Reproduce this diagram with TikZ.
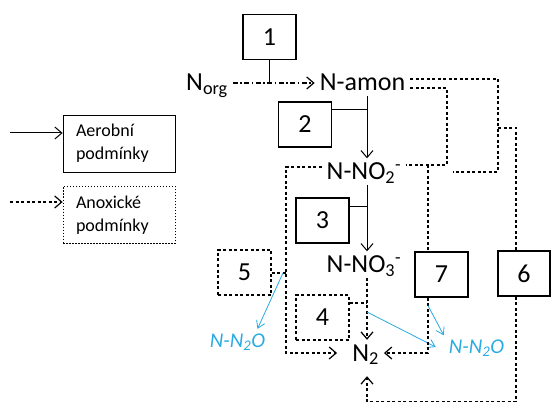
\documentclass[tikz,border=0pt]{standalone}
\usepackage{fontspec}
\setmainfont{Carlito}
\usepackage{xcolor}
\usetikzlibrary{arrows.meta,positioning,calc}
\definecolor{modra}{RGB}{41,170,226}
\tikzset{
    krabice/.style={
        rectangle,
        draw,
        line width=1.2pt,
        minimum width=53pt,
        minimum height=45pt,
        inner sep=0pt,
        font=\fontsize{26}{30}\selectfont
    },
    krabiceAnox/.style={krabice, dash pattern=on 3pt off 2.5pt},
    latka/.style={
        inner xsep=5pt,
        inner ysep=5pt,
        text height=16pt,
        text depth=0pt,
        font=\fontsize{26}{30}\selectfont
    },
    plyn/.style={latka, text height=13pt, text=modra, font=\fontsize{21}{25}\selectfont\itshape},
    legenda/.style={
        rectangle,
        draw,
        line width=0.8pt,
        align=left,
        text width=86pt,
        minimum height=57pt,
        inner xsep=13pt,
        font=\fontsize{18}{23}\selectfont
    },
    sipka/.style={-{Straight Barb[length=7pt,width=12pt]}},
    aerob/.style={line width=1pt},
    anox/.style={line width=1.2pt, dash pattern=on 3pt off 2.5pt},
    anoxCarka/.style={line width=1.2pt, dash pattern=on 5pt off 2.5pt on 1.5pt off 2.5pt},
    uvolneni/.style={draw=modra, line width=0.8pt, -{Straight Barb[length=7pt,width=9pt]}}
}

\begin{document}
\begin{tikzpicture}[x=1pt,y=-1pt]
    \useasboundingbox (0,0) rectangle (551,403);

    \node[krabice] (b1) at (269.5,37) {1};
    \node[krabice] (b2) at (305,124.5) {2};
    \node[krabice] (b3) at (322.5,220.5) {3};
    \node[krabiceAnox] (b4) at (322.5,317.5) {4};
    \node[krabiceAnox] (b5) at (244.5,272.5) {5};
    \node[krabice, minimum width=52pt] (b6) at (524,273.5) {6};
    \node[krabice] (b7) at (441.5,274.5) {7};

    \node[latka] (norg) at (207,83) {N\textsubscript{org}};
    \node[latka] (namon) at (362.5,83) {N-amon};
    \node[latka] (nno2) at (364,171.5) {N-NO\textsubscript{2}\textsuperscript{-}};
    \node[latka] (nno3) at (364,264.5) {N-NO\textsubscript{3}\textsuperscript{-}};
    \node[latka] (n2) at (365.5,353) {N\textsubscript{2}};
    \node[plyn] (n2oL) at (237.5,340.5) {N-N\textsubscript{2}O};
    \node[plyn] (n2oR) at (476.5,347) {N-N\textsubscript{2}O};

    \node[legenda] (aer) at (119,143.5) {Aerobní\\podmínky};
    \node[legenda, dash pattern=on 1.5pt off 1.5pt] (anx) at (119,215) {Anoxické\\podmínky};

    \coordinate (osa) at (367,0);
    \coordinate (j2) at (367,110);
    \coordinate (j3) at (367,207);
    \coordinate (j4) at (367,303);
    \coordinate (j4b) at (367,312);
    \coordinate (l1) at (286,167);
    \coordinate (j5) at (286,273);
    \coordinate (r1) at (447,88);
    \coordinate (r2) at (447,165);
    \coordinate (c7) at (428,165);
    \coordinate (o1) at (498,79);
    \coordinate (o2) at (498,172);
    \coordinate (o3) at (453,172);
    \coordinate (o4) at (498,128);
    \coordinate (o5) at (516,128);
    \coordinate (dno) at (367,401.5);
    \coordinate (la) at (10,133);
    \coordinate (lb) at (10,202);

    \draw[anoxCarka,sipka] (norg) -- (namon);
    \draw[aerob] (b1) -- (b1 |- namon);

    \draw[aerob,sipka] (namon.south -| osa) -- (nno2.north -| osa);
    \draw[aerob] (b2.east |- j2) -- (j2);
    \draw[aerob,sipka] (nno2.south -| osa) -- (nno3.north -| osa);
    \draw[aerob] (b3.east |- j3) -- (j3);
    \draw[anox,sipka] (nno3.south -| osa) -- (n2.north -| osa);
    \draw[anox] (b4.east |- j4) -- (j4);
    \draw[uvolneni] (j4b) -- ([xshift=-8pt]n2oR.west);

    \draw[anox,sipka] (nno2.west |- l1) -- (l1) |- ([xshift=-10pt]n2.west);
    \draw[anox] (b5.east |- j5) -- (j5);
    \draw[uvolneni] ([xshift=-3pt]j5) -- ([xshift=20pt]n2oL.north);

    \draw[anox] (namon.east |- r1) -- (r1) -- (r2) -- (r2 -| nno2.east);
    \draw[anox] (c7) -- (c7 |- b7.north);
    \draw[anox,sipka] (c7 |- b7.south) |- (n2.east);
    \draw[uvolneni] ([yshift=-8pt]c7 |- b7.south) -- (n2oR.north west);

    \draw[anox] (namon.east |- o1) -- (o1) -- (o2) -- (o3);
    \draw[anox] (o4) -- (o5) -- (o5 |- b6.north);
    \draw[anox,sipka] (o5 |- b6.south) |- (dno) -- ([yshift=-10pt]n2.south -| dno);

    \draw[aerob,sipka] (la) -- (la -| aer.west);
    \draw[anox,sipka] (lb) -- (lb -| anx.west);
\end{tikzpicture}
\end{document}
